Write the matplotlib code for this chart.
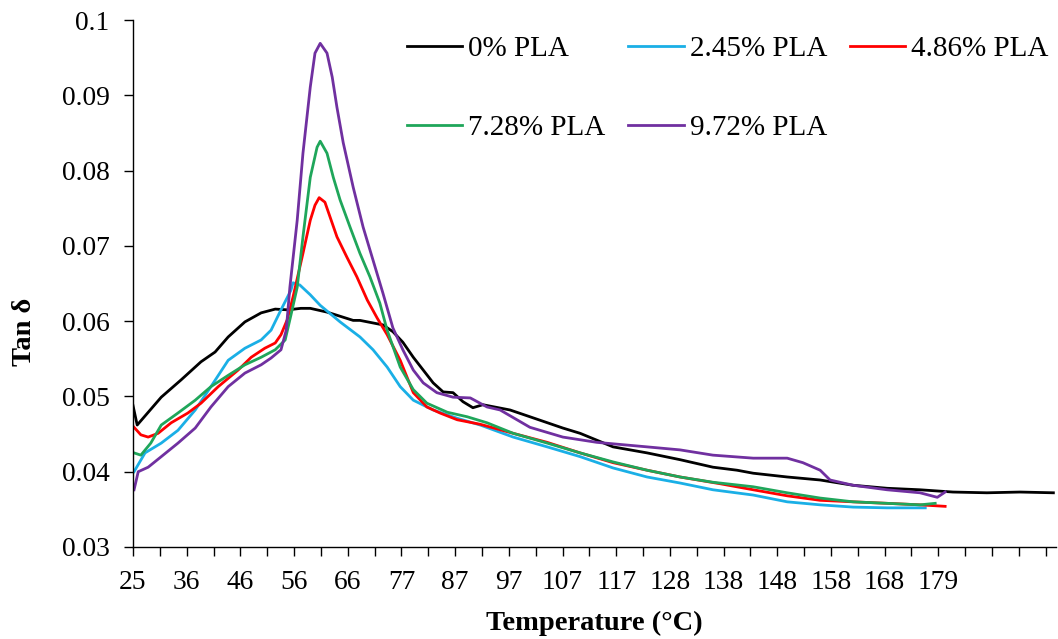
import matplotlib
matplotlib.use("Agg")
import matplotlib.pyplot as plt
import numpy as np

# Tan delta vs temperature
t_0 = [25.0, 25.8, 30.4, 34.2, 38.0, 40.7, 43.2, 46.4, 49.5, 52.2, 54.6, 57.1,
       58.9, 62.1, 67.1, 68.4, 72.8, 74.7, 76.6, 78.6, 80.5, 82.4, 84.3, 86.2,
       88.1, 90.0, 91.9, 97.1, 100.9, 107.2, 110.5, 116.8, 123.3, 129.6, 135.9,
       140.5, 143.6, 150.1, 156.4, 162.7, 169.2, 175.5, 181.8, 188.3, 194.6, 201.0]
v_0 = [0.0488, 0.0462, 0.0499, 0.0522, 0.0546, 0.0559, 0.0579, 0.0599, 0.0611,
       0.0616, 0.0615, 0.0617, 0.0617, 0.0612, 0.0601, 0.0601, 0.0595, 0.0586,
       0.0572, 0.0552, 0.0535, 0.0518, 0.0506, 0.0505, 0.0493, 0.0485, 0.0489,
       0.0482, 0.0473, 0.0458, 0.0451, 0.0433, 0.0425, 0.0416, 0.0406, 0.0402,
       0.0398, 0.0393, 0.0389, 0.0382, 0.0378, 0.0376, 0.0373, 0.0372, 0.0373,
       0.0372]

t_245 = [25.2, 27.3, 30.4, 33.6, 36.9, 39.9, 43.2, 46.4, 49.5, 51.4, 53.3, 55.2,
         55.6, 56.9, 58.9, 60.8, 64.6, 68.4, 70.9, 73.6, 76.1, 78.6, 82.4, 87.0,
         91.4, 97.7, 104.2, 110.5, 116.8, 123.3, 129.6, 135.9, 143.6, 150.1,
         156.4, 162.7, 169.2, 176.5]
v_245 = [0.0400, 0.0425, 0.0438, 0.0455, 0.0482, 0.0513, 0.0548, 0.0564, 0.0575,
         0.0588, 0.0615, 0.0641, 0.0651, 0.0648, 0.0635, 0.0621, 0.0599, 0.0579,
         0.0562, 0.0539, 0.0513, 0.0495, 0.0482, 0.0471, 0.0462, 0.0446, 0.0433,
         0.0420, 0.0405, 0.0393, 0.0385, 0.0376, 0.0369, 0.0360, 0.0356, 0.0353,
         0.0352, 0.0352]

t_486 = [25.2, 26.5, 27.9, 29.8, 32.3, 35.5, 38.0, 41.3, 45.1, 47.6, 50.2, 52.2,
         53.3, 54.5, 55.6, 57.5, 58.9, 59.8, 60.6, 61.7, 62.7, 64.0, 65.9, 67.8,
         69.8, 71.7, 73.6, 76.1, 78.6, 81.2, 83.7, 87.0, 91.4, 97.7, 104.2, 110.5,
         116.8, 123.3, 129.6, 137.3, 143.6, 150.1, 156.4, 162.7, 169.2, 175.5, 180.3]
v_486 = [0.0459, 0.0449, 0.0446, 0.0451, 0.0465, 0.0478, 0.0491, 0.0513, 0.0535,
         0.0552, 0.0564, 0.0571, 0.0582, 0.0602, 0.0632, 0.0690, 0.0734, 0.0754,
         0.0764, 0.0758, 0.0738, 0.0712, 0.0685, 0.0659, 0.0628, 0.0604, 0.0582,
         0.0548, 0.0505, 0.0486, 0.0478, 0.0469, 0.0463, 0.0451, 0.0439, 0.0425,
         0.0412, 0.0402, 0.0393, 0.0384, 0.0376, 0.0368, 0.0362, 0.0360, 0.0358,
         0.0356, 0.0354]

t_728 = [25.2, 26.5, 28.4, 30.4, 33.6, 36.9, 39.9, 43.2, 46.4, 49.5, 52.2, 54.1,
         55.2, 56.4, 57.5, 58.9, 60.2, 60.8, 62.1, 63.3, 64.6, 66.5, 68.4, 70.3,
         72.2, 73.6, 76.1, 78.6, 81.2, 85.1, 88.9, 92.7, 97.7, 104.2, 110.5, 116.8,
         123.3, 129.6, 135.9, 143.6, 150.1, 156.4, 162.7, 169.2, 175.5, 178.4]
v_728 = [0.0425, 0.0422, 0.0438, 0.0462, 0.0478, 0.0495, 0.0513, 0.0528, 0.0542,
         0.0552, 0.0562, 0.0575, 0.0608, 0.0645, 0.0712, 0.0791, 0.0831, 0.0839,
         0.0823, 0.0791, 0.0761, 0.0725, 0.0690, 0.0659, 0.0624, 0.0588, 0.0539,
         0.0509, 0.0491, 0.0479, 0.0473, 0.0465, 0.0451, 0.0438, 0.0425, 0.0413,
         0.0402, 0.0393, 0.0386, 0.0380, 0.0372, 0.0365, 0.0360, 0.0358, 0.0356,
         0.0358]

t_972 = [25.2, 26.0, 27.9, 30.4, 33.6, 36.9, 39.9, 43.2, 46.4, 49.5, 51.4, 53.3,
         54.3, 55.0, 56.4, 57.5, 58.9, 59.8, 60.8, 62.1, 63.1, 64.0, 65.2, 67.1,
         69.0, 70.9, 72.8, 74.7, 76.6, 78.6, 80.5, 83.1, 86.2, 89.5, 92.7, 95.2,
         100.9, 107.2, 113.7, 123.3, 129.6, 135.9, 143.6, 150.1, 153.1, 156.4,
         158.3, 162.7, 169.2, 175.5, 178.8, 180.3]
v_972 = [0.0376, 0.0400, 0.0406, 0.0420, 0.0438, 0.0458, 0.0486, 0.0513, 0.0531,
         0.0542, 0.0551, 0.0562, 0.0588, 0.0645, 0.0734, 0.0823, 0.0911, 0.0956,
         0.0969, 0.0956, 0.0924, 0.0884, 0.0837, 0.0778, 0.0725, 0.0681, 0.0637,
         0.0591, 0.0562, 0.0535, 0.0518, 0.0505, 0.0499, 0.0498, 0.0486, 0.0482,
         0.0459, 0.0446, 0.0439, 0.0433, 0.0429, 0.0422, 0.0418, 0.0418, 0.0412,
         0.0402, 0.0389, 0.0382, 0.0376, 0.0372, 0.0366, 0.0373]

x_labels = ["25", "36", "46", "56", "66", "77", "87", "97", "107", "117", "128",
            "138", "148", "158", "168", "179"]
y_ticks = [0.03, 0.04, 0.05, 0.06, 0.07, 0.08, 0.09, 0.1]
y_labels = ["0.03", "0.04", "0.05", "0.06", "0.07", "0.08", "0.09", "0.1"]

series = [
    (t_0, v_0, "black", "0% PLA"),
    (t_245, v_245, "#1AAFE6", "2.45% PLA"),
    (t_486, v_486, "#FF0000", "4.86% PLA"),
    (t_728, v_728, "#1FA65A", "7.28% PLA"),
    (t_972, v_972, "#7030A0", "9.72% PLA"),
]

plt.rcParams['font.family'] = ['Liberation Serif', 'DejaVu Serif']

fig = plt.figure(figsize=(10.58, 6.39), dpi=100)
ax = fig.add_axes([133 / 1058, 1 - 547 / 639, 923 / 1058, 527 / 639])

lines = {}
for t, v, c, lab in series:
    ln, = ax.plot(t, v, color=c, lw=2.0, label=lab)
    lines[lab] = ln

# category-style axis: 35 evenly spaced ticks, every second one labelled
step = (179 - 25) / 30
ticks = [25 + i * step for i in range(35)]
tick_text = [x_labels[i // 2] if i % 2 == 0 and i // 2 < len(x_labels) else ""
             for i in range(35)]
ax.set_xticks(ticks)
ax.set_xticklabels(tick_text)
ax.set_xlim(25, 201.5)

ax.set_yticks(y_ticks)
ax.set_yticklabels(y_labels)
ax.set_ylim(0.03, 0.1)

for s in ['top', 'right']:
    ax.spines[s].set_visible(False)
for s in ['left', 'bottom']:
    ax.spines[s].set_linewidth(1.0)
ax.tick_params(axis='both', direction='out', length=6.5, width=1.0,
               labelsize=19.8)
ax.tick_params(axis='x', pad=10)
ax.tick_params(axis='y', pad=10.5)

ax.set_xlabel("Temperature (°C)", fontsize=20.5, fontweight='bold')
ax.set_ylabel("Tan δ", fontsize=20.5, fontweight='bold')
ax.xaxis.set_label_coords(0.5, -0.121)
ax.yaxis.set_label_coords(-0.104, 0.408)

order = ["0% PLA", "7.28% PLA", "2.45% PLA", "9.72% PLA", "4.86% PLA"]
ax.legend([lines[k] for k in order], order, ncol=3, frameon=False,
          fontsize=21, loc='upper left', bbox_to_anchor=(407 / 1058, 1 - 36 / 639),
          bbox_transform=fig.transFigure, borderpad=0, borderaxespad=0,
          handlelength=1.9, handletextpad=0.2, columnspacing=0.78,
          labelspacing=1.78)

fig.savefig("out.png", dpi=100)
